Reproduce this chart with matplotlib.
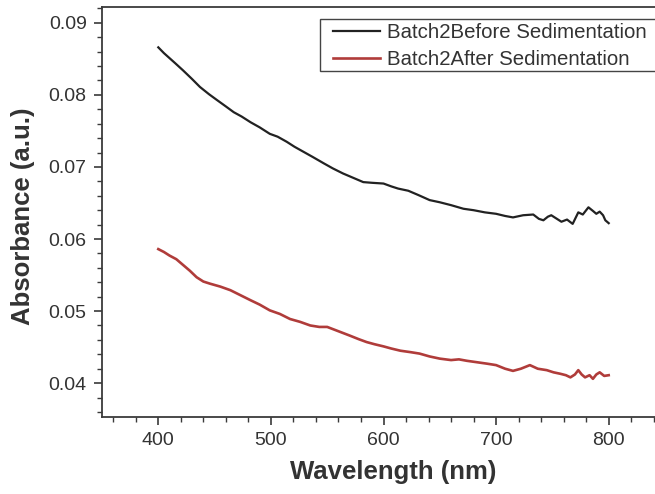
import matplotlib
matplotlib.use("Agg")
import matplotlib.pyplot as plt
from matplotlib.ticker import MultipleLocator
from matplotlib.patches import Rectangle

# --- data ---
wl_before = [400, 405, 410, 415, 422, 430, 437, 445, 452, 460, 467, 474, 482, 490,
             499, 506, 514, 521, 529, 537, 547, 555, 564, 573, 582, 590, 600, 607,
             613, 622, 631, 641, 650, 660, 671, 680, 690, 700, 708, 715, 724, 733,
             738, 742, 746, 749, 754, 758, 763, 768, 773, 777, 782, 786, 789, 792,
             795, 797, 800]
abs_before = [0.0866, 0.0858, 0.0851, 0.0844, 0.0834, 0.0822, 0.0811, 0.0801, 0.0793,
              0.0784, 0.0776, 0.0770, 0.0762, 0.0755, 0.0746, 0.0742, 0.0735, 0.0728,
              0.0721, 0.0714, 0.0705, 0.0698, 0.0691, 0.0685, 0.0679, 0.0678, 0.0677,
              0.0673, 0.0670, 0.0667, 0.0661, 0.0654, 0.0651, 0.0647, 0.0642, 0.0640,
              0.0637, 0.0635, 0.0632, 0.0630, 0.0633, 0.0634, 0.0628, 0.0626, 0.0631,
              0.0633, 0.0628, 0.0624, 0.0627, 0.0621, 0.0637, 0.0634, 0.0644, 0.0639,
              0.0635, 0.0638, 0.0633, 0.0626, 0.0622]

wl_after = [400, 405, 410, 416, 422, 428, 434, 440, 446, 455, 464, 473, 482, 490,
            499, 508, 517, 526, 535, 543, 550, 560, 570, 578, 585, 592, 600, 607,
            615, 624, 632, 641, 650, 660, 667, 674, 683, 692, 700, 708, 715, 722,
            730, 737, 745, 751, 757, 762, 766, 770, 773, 776, 779, 783, 786, 789,
            792, 796, 800]
abs_after = [0.0586, 0.0582, 0.0577, 0.0572, 0.0564, 0.0556, 0.0547, 0.0541, 0.0538,
             0.0534, 0.0529, 0.0522, 0.0515, 0.0509, 0.0501, 0.0496, 0.0489, 0.0485,
             0.0480, 0.0478, 0.0478, 0.0472, 0.0466, 0.0461, 0.0457, 0.0454, 0.0451,
             0.0448, 0.0445, 0.0443, 0.0441, 0.0437, 0.0434, 0.0432, 0.0433, 0.0431,
             0.0429, 0.0427, 0.0425, 0.0420, 0.0417, 0.0420, 0.0425, 0.0420, 0.0418,
             0.0415, 0.0413, 0.0411, 0.0408, 0.0412, 0.0418, 0.0412, 0.0408, 0.0411,
             0.0406, 0.0412, 0.0415, 0.0410, 0.0411]

label_before = "Batch2Before Sedimentation"
label_after = "Batch2After Sedimentation"
x_ticks = [400, 500, 600, 700, 800]
y_ticks = [0.04, 0.05, 0.06, 0.07, 0.08, 0.09]

# --- figure ---
W, H = 655, 494
plt.rcParams['font.family'] = ['Liberation Sans', 'DejaVu Sans']
fig = plt.figure(figsize=(W / 100, H / 100), dpi=100)
fig.patch.set_facecolor('white')

left_px, right_px, top_px, bottom_px = 102, 665, 7, 417
ax = fig.add_axes([left_px / W, 1 - bottom_px / H,
                   (right_px - left_px) / W, (bottom_px - top_px) / H])

txt = '#333333'
ax.plot(wl_before, abs_before, color='#222222', lw=1.6, label=label_before)
ax.plot(wl_after, abs_after, color='#b03c3a', lw=1.9, label=label_after)

ax.set_xlim(350, 850)
ax.set_ylim(0.0353, 0.0922)
ax.set_xticks(x_ticks)
ax.set_yticks(y_ticks)
ax.set_yticklabels([f"{v:.2f}" for v in y_ticks])
ax.xaxis.set_minor_locator(MultipleLocator(20))
ax.yaxis.set_minor_locator(MultipleLocator(0.002))

for s in ['left', 'bottom', 'top', 'right']:
    ax.spines[s].set_color('#3a3a3a')
    ax.spines[s].set_linewidth(1.3)

ax.tick_params(which='major', direction='out', length=6, width=1.2,
               colors='#3a3a3a', labelcolor=txt, labelsize=14, pad=5)
ax.tick_params(which='minor', direction='out', length=3.5, width=1.0,
               colors='#3a3a3a')
ax.tick_params(axis='x', which='both', top=False)
ax.tick_params(axis='y', which='both', right=False)

fig.text(393 / W, 1 - 472 / H, "Wavelength (nm)", ha='center', va='center',
         fontsize=18.5, fontweight='bold', color=txt)
fig.text(23 / W, 1 - 216 / H, "Absorbance (a.u.)", ha='center', va='center',
         rotation=90, fontsize=18.5, fontweight='bold', color=txt)

# legend frame (extends past the right edge, as in the reference)
frame = Rectangle((320 / W, 1 - 71 / H), 360 / W, 52 / H,
                  transform=fig.transFigure, facecolor='white',
                  edgecolor='#444444', linewidth=1.0, zorder=5)
fig.patches.append(frame)

leg = fig.legend(loc='upper left', bbox_to_anchor=(330 / W, 1 - 20 / H),
                 bbox_transform=fig.transFigure, borderaxespad=0,
                 fontsize=14.7, frameon=False,
                 handlelength=2.3, handletextpad=0.35, borderpad=0.15,
                 labelspacing=0.38)
leg.set_zorder(6)
for t in leg.get_texts():
    t.set_color(txt)

fig.savefig("out.png", dpi=100, facecolor='white')
